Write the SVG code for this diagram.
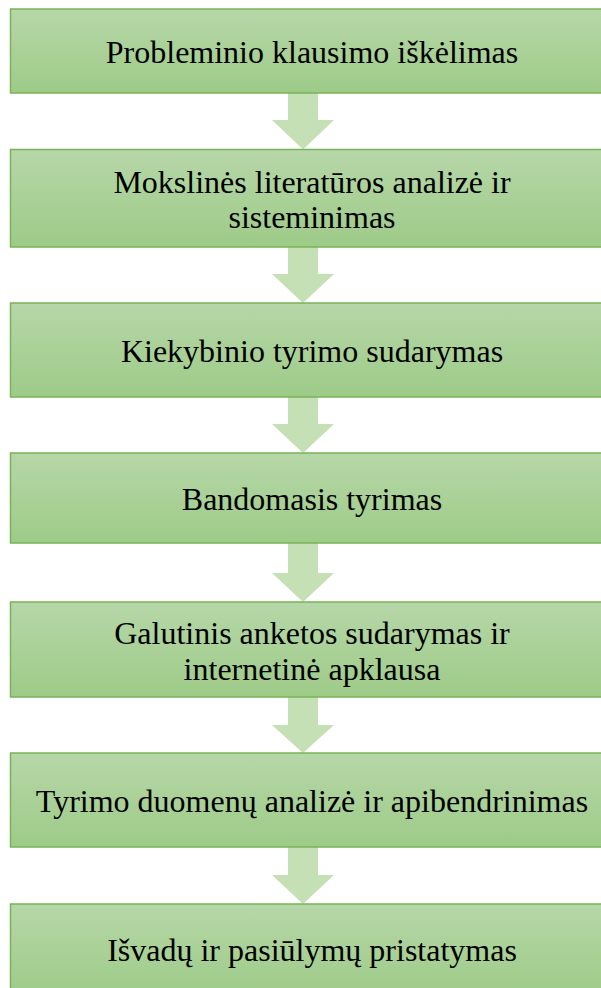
<svg xmlns="http://www.w3.org/2000/svg" width="601" height="988" viewBox="0 0 601 988">
<defs>
<linearGradient id="g" x1="0" y1="0" x2="0" y2="1">
<stop offset="0" stop-color="#b6d7a8"/>
<stop offset="1" stop-color="#9ecb88"/>
</linearGradient>
<style>
.box{fill:url(#g);stroke:#79b358;stroke-width:1.5}
.t{font-family:"Liberation Serif","Times New Roman",serif;font-size:32px;fill:#000;text-anchor:middle}
.arr{fill:#c5e0b4}
</style>
</defs>
<rect width="601" height="988" fill="#fff"/>
<g id="connectors">
<polygon class="arr" points="288,93 318,93 318,120 334,120 303,149.5 272,120 288,120"/>
<polygon class="arr" points="288,247 318,247 318,274 334,274 303,303 272,274 288,274"/>
<polygon class="arr" points="288,397 318,397 318,424 334,424 303,453 272,424 288,424"/>
<polygon class="arr" points="288,543 318,543 318,573 334,573 303,602 272,573 288,573"/>
<polygon class="arr" points="288,697 318,697 318,725 334,725 303,753 272,725 288,725"/>
<polygon class="arr" points="288,847 318,847 318,875 334,875 303,904 272,875 288,875"/>
</g>
<g id="n1"><rect class="box" x="10.5" y="9" width="604" height="84"/><text class="t" x="312" y="63">Probleminio klausimo iškėlimas</text></g>
<g id="n2"><rect class="box" x="10.5" y="149.5" width="604" height="97.5"/><text class="t" x="312" y="193">Mokslinės literatūros analizė ir</text><text class="t" x="312" y="228">sisteminimas</text></g>
<g id="n3"><rect class="box" x="10.5" y="303" width="604" height="94"/><text class="t" x="312" y="362">Kiekybinio tyrimo sudarymas</text></g>
<g id="n4"><rect class="box" x="10.5" y="453" width="604" height="90"/><text class="t" x="312" y="510">Bandomasis tyrimas</text></g>
<g id="n5"><rect class="box" x="10.5" y="602" width="604" height="95"/><text class="t" x="312" y="644">Galutinis anketos sudarymas ir</text><text class="t" x="312" y="680">internetinė apklausa</text></g>
<g id="n6"><rect class="box" x="10.5" y="753" width="604" height="94"/><text class="t" x="312" y="812">Tyrimo duomenų analizė ir apibendrinimas</text></g>
<g id="n7"><rect class="box" x="10.5" y="904" width="604" height="92"/><text class="t" x="312" y="961">Išvadų ir pasiūlymų pristatymas</text></g>
</svg>
